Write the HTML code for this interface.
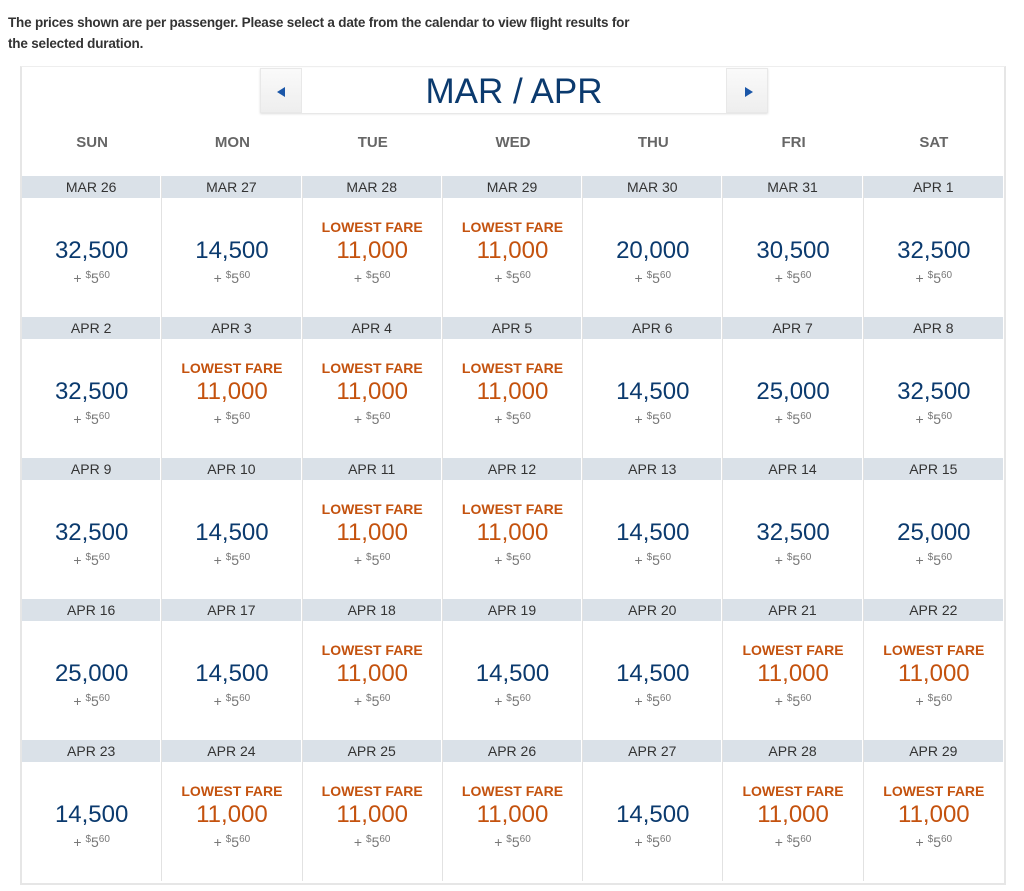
<!DOCTYPE html>
<html><head><meta charset="utf-8"><style>
*{margin:0;padding:0;box-sizing:border-box}
body{width:1024px;height:891px;background:#fff;font-family:"Liberation Sans",sans-serif;position:relative;overflow:hidden}
.intro{position:absolute;left:8px;top:12px;font-size:13.5px;font-weight:bold;color:#333;line-height:21px;width:640px;letter-spacing:-0.2px}
.box{position:absolute;left:20px;top:66px;width:986px;height:819px;border:2px solid #e6e6e6;border-top:1px solid #eee}
.nav{position:absolute;left:238px;top:1px;width:508px;height:45px;box-shadow:0 1px 2px #ddd}
.btn{position:absolute;top:0;width:42px;height:45px;background:linear-gradient(#fafafa,#eee);border:1px solid #e8e8e8}
.btn.l{left:0}.btn.r{right:0}
.tri{position:absolute;top:18px;left:16px;width:0;height:0;border-top:5px solid transparent;border-bottom:5px solid transparent}
.l .tri{border-right:8px solid #1a56a8}
.r .tri{border-left:8px solid #1a56a8;left:18px}
.title{position:absolute;left:42px;right:42px;top:0;height:45px;text-align:center;font-size:35px;line-height:48px;color:#0b3a6e}
.days{position:absolute;left:0;top:67px;width:982px;display:flex}
.days div{width:140.3px;text-align:center;font-size:15px;color:#666;font-weight:bold}
.row{position:absolute;left:0;width:982px;height:141px;display:flex}
.c{width:140.3px;height:141px;border-right:1px solid #e2e2e2;position:relative;text-align:center}
.c:last-child{border-right:none}
.d{height:22px;background:#dae1e8;line-height:22px;font-size:14px;color:#333;border-right:1px solid #fff}
.lf{position:absolute;top:43px;left:0;right:0;font-size:14px;font-weight:bold;color:#c4520e;line-height:16px}
.p{position:absolute;top:61px;left:0;right:0;font-size:24px;color:#0b3a6e;line-height:28px}
.p.o{color:#c4520e}
.t{position:absolute;top:92px;left:0;right:0;font-size:14px;color:#777;line-height:16px}
.t sup{font-size:10px;vertical-align:5px}
</style></head><body>
<div class="intro">The prices shown are per passenger. Please select a date from the calendar to view flight results for the selected duration.</div>
<div class="box">
<div class="nav"><div class="btn l"><div class="tri"></div></div><div class="title">MAR / APR</div><div class="btn r"><div class="tri"></div></div></div>
<div class="days"><div>SUN</div><div>MON</div><div>TUE</div><div>WED</div><div>THU</div><div>FRI</div><div>SAT</div></div>

<div class="row" style="top:109px">
<div class="c"><div class="d">MAR 26</div><div class="p">32,500</div><div class="t">+ <sup>$</sup>5<sup>60</sup></div></div>
<div class="c"><div class="d">MAR 27</div><div class="p">14,500</div><div class="t">+ <sup>$</sup>5<sup>60</sup></div></div>
<div class="c"><div class="d">MAR 28</div><div class="lf">LOWEST FARE</div><div class="p o">11,000</div><div class="t">+ <sup>$</sup>5<sup>60</sup></div></div>
<div class="c"><div class="d">MAR 29</div><div class="lf">LOWEST FARE</div><div class="p o">11,000</div><div class="t">+ <sup>$</sup>5<sup>60</sup></div></div>
<div class="c"><div class="d">MAR 30</div><div class="p">20,000</div><div class="t">+ <sup>$</sup>5<sup>60</sup></div></div>
<div class="c"><div class="d">MAR 31</div><div class="p">30,500</div><div class="t">+ <sup>$</sup>5<sup>60</sup></div></div>
<div class="c"><div class="d">APR 1</div><div class="p">32,500</div><div class="t">+ <sup>$</sup>5<sup>60</sup></div></div>
</div>

<div class="row" style="top:250px">
<div class="c"><div class="d">APR 2</div><div class="p">32,500</div><div class="t">+ <sup>$</sup>5<sup>60</sup></div></div>
<div class="c"><div class="d">APR 3</div><div class="lf">LOWEST FARE</div><div class="p o">11,000</div><div class="t">+ <sup>$</sup>5<sup>60</sup></div></div>
<div class="c"><div class="d">APR 4</div><div class="lf">LOWEST FARE</div><div class="p o">11,000</div><div class="t">+ <sup>$</sup>5<sup>60</sup></div></div>
<div class="c"><div class="d">APR 5</div><div class="lf">LOWEST FARE</div><div class="p o">11,000</div><div class="t">+ <sup>$</sup>5<sup>60</sup></div></div>
<div class="c"><div class="d">APR 6</div><div class="p">14,500</div><div class="t">+ <sup>$</sup>5<sup>60</sup></div></div>
<div class="c"><div class="d">APR 7</div><div class="p">25,000</div><div class="t">+ <sup>$</sup>5<sup>60</sup></div></div>
<div class="c"><div class="d">APR 8</div><div class="p">32,500</div><div class="t">+ <sup>$</sup>5<sup>60</sup></div></div>
</div>

<div class="row" style="top:391px">
<div class="c"><div class="d">APR 9</div><div class="p">32,500</div><div class="t">+ <sup>$</sup>5<sup>60</sup></div></div>
<div class="c"><div class="d">APR 10</div><div class="p">14,500</div><div class="t">+ <sup>$</sup>5<sup>60</sup></div></div>
<div class="c"><div class="d">APR 11</div><div class="lf">LOWEST FARE</div><div class="p o">11,000</div><div class="t">+ <sup>$</sup>5<sup>60</sup></div></div>
<div class="c"><div class="d">APR 12</div><div class="lf">LOWEST FARE</div><div class="p o">11,000</div><div class="t">+ <sup>$</sup>5<sup>60</sup></div></div>
<div class="c"><div class="d">APR 13</div><div class="p">14,500</div><div class="t">+ <sup>$</sup>5<sup>60</sup></div></div>
<div class="c"><div class="d">APR 14</div><div class="p">32,500</div><div class="t">+ <sup>$</sup>5<sup>60</sup></div></div>
<div class="c"><div class="d">APR 15</div><div class="p">25,000</div><div class="t">+ <sup>$</sup>5<sup>60</sup></div></div>
</div>

<div class="row" style="top:532px">
<div class="c"><div class="d">APR 16</div><div class="p">25,000</div><div class="t">+ <sup>$</sup>5<sup>60</sup></div></div>
<div class="c"><div class="d">APR 17</div><div class="p">14,500</div><div class="t">+ <sup>$</sup>5<sup>60</sup></div></div>
<div class="c"><div class="d">APR 18</div><div class="lf">LOWEST FARE</div><div class="p o">11,000</div><div class="t">+ <sup>$</sup>5<sup>60</sup></div></div>
<div class="c"><div class="d">APR 19</div><div class="p">14,500</div><div class="t">+ <sup>$</sup>5<sup>60</sup></div></div>
<div class="c"><div class="d">APR 20</div><div class="p">14,500</div><div class="t">+ <sup>$</sup>5<sup>60</sup></div></div>
<div class="c"><div class="d">APR 21</div><div class="lf">LOWEST FARE</div><div class="p o">11,000</div><div class="t">+ <sup>$</sup>5<sup>60</sup></div></div>
<div class="c"><div class="d">APR 22</div><div class="lf">LOWEST FARE</div><div class="p o">11,000</div><div class="t">+ <sup>$</sup>5<sup>60</sup></div></div>
</div>

<div class="row" style="top:673px">
<div class="c"><div class="d">APR 23</div><div class="p">14,500</div><div class="t">+ <sup>$</sup>5<sup>60</sup></div></div>
<div class="c"><div class="d">APR 24</div><div class="lf">LOWEST FARE</div><div class="p o">11,000</div><div class="t">+ <sup>$</sup>5<sup>60</sup></div></div>
<div class="c"><div class="d">APR 25</div><div class="lf">LOWEST FARE</div><div class="p o">11,000</div><div class="t">+ <sup>$</sup>5<sup>60</sup></div></div>
<div class="c"><div class="d">APR 26</div><div class="lf">LOWEST FARE</div><div class="p o">11,000</div><div class="t">+ <sup>$</sup>5<sup>60</sup></div></div>
<div class="c"><div class="d">APR 27</div><div class="p">14,500</div><div class="t">+ <sup>$</sup>5<sup>60</sup></div></div>
<div class="c"><div class="d">APR 28</div><div class="lf">LOWEST FARE</div><div class="p o">11,000</div><div class="t">+ <sup>$</sup>5<sup>60</sup></div></div>
<div class="c"><div class="d">APR 29</div><div class="lf">LOWEST FARE</div><div class="p o">11,000</div><div class="t">+ <sup>$</sup>5<sup>60</sup></div></div>
</div>
</div>
</body></html>
